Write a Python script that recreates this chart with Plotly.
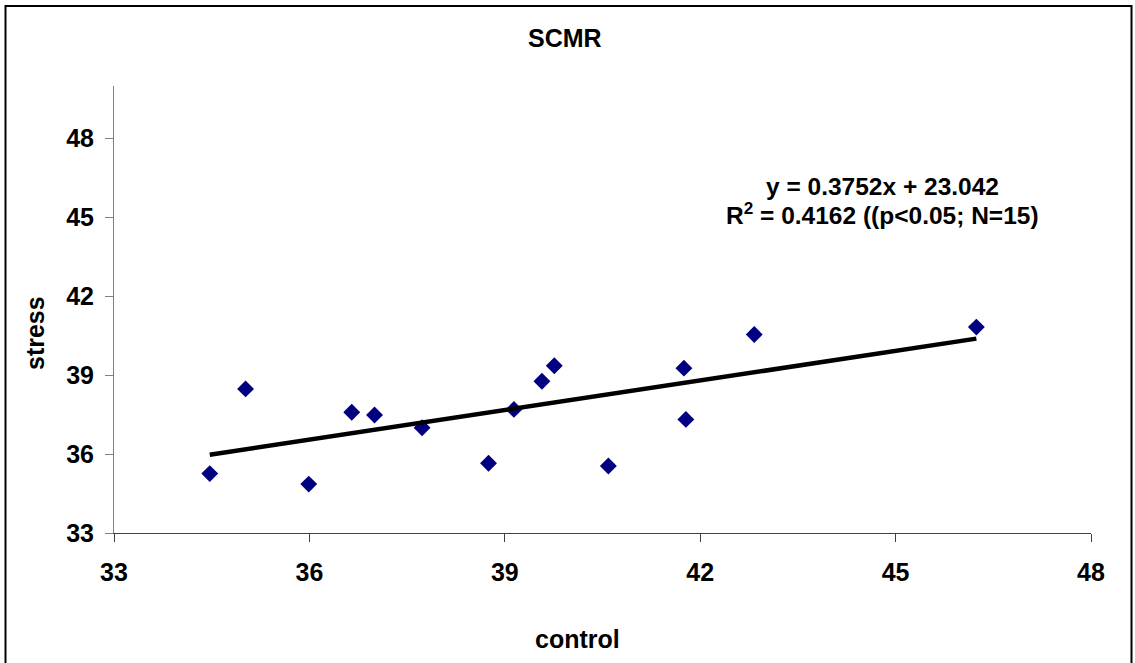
import plotly.graph_objects as go

# Data
control = [34.47, 35.02, 35.99, 36.65, 37.00, 37.73, 38.75, 39.14, 39.57, 39.76,
           40.59, 41.75, 41.78, 42.83, 46.24]
stress = [35.26, 38.48, 34.86, 37.59, 37.49, 37.00, 35.65, 37.70, 38.77, 39.36,
          35.55, 39.27, 37.32, 40.55, 40.83]
slope = 0.3752
intercept = 23.042
x_ticks = [33, 36, 39, 42, 45, 48]
y_ticks = [33, 36, 39, 42, 45, 48]

xs = sorted(control)
fit = [slope * v + intercept for v in xs]

FONT = "Liberation Sans, Arial, sans-serif"

fig = go.Figure()
fig.add_trace(go.Scatter(
    x=control, y=stress, mode="markers",
    marker=dict(symbol="diamond", size=13, color="#000080", line=dict(width=0)),
    showlegend=False, hoverinfo="skip"))
fig.add_trace(go.Scatter(
    x=xs, y=fit, mode="lines",
    line=dict(color="black", width=4.5),
    showlegend=False, hoverinfo="skip"))

W, H = 1135, 663
L, R, T, B = 114, 44, 86, 130
pw, ph = W - L - R, H - T - B

def px(x):
    return (x - L) / pw

def py(y):
    return (H - B - y) / ph

fig.update_layout(
    width=W, height=H,
    margin=dict(l=L, r=R, t=T, b=B, pad=0),
    paper_bgcolor="white", plot_bgcolor="white",
    font=dict(family=FONT, color="black"),
    xaxis=dict(range=[33, 48], tickvals=x_ticks, ticktext=[str(v) for v in x_ticks],
               showgrid=False, zeroline=False, showline=True, linecolor="#404040", linewidth=1,
               ticks="outside", ticklen=8, tickcolor="#404040", tickwidth=1,
               tickfont=dict(family=FONT, size=25, color="black", weight="bold"),
               ticklabelstandoff=9),
    yaxis=dict(range=[33, 50], tickvals=y_ticks, ticktext=[str(v) for v in y_ticks],
               showgrid=False, zeroline=False, showline=True, linecolor="#808080", linewidth=1,
               ticks="outside", ticklen=8, tickcolor="#808080", tickwidth=1,
               tickfont=dict(family=FONT, size=25, color="black", weight="bold"),
               ticklabelstandoff=6),
    shapes=[dict(type="rect", xref="paper", yref="paper",
                 x0=px(5.5), x1=px(1131.5), y0=py(700), y1=py(6),
                 line=dict(color="black", width=2), fillcolor="rgba(0,0,0,0)", layer="above")],
    annotations=[
        dict(text="<b>SCMR</b>", x=px(565), y=py(38), xref="paper", yref="paper",
             showarrow=False, xanchor="center", yanchor="middle",
             font=dict(family=FONT, size=25, color="black")),
        dict(text="<b>control</b>", x=px(577), y=py(639), xref="paper", yref="paper",
             showarrow=False, xanchor="center", yanchor="middle",
             font=dict(family=FONT, size=25, color="black")),
        dict(text="<b>stress</b>", x=px(35), y=py(333), xref="paper", yref="paper",
             showarrow=False, xanchor="center", yanchor="middle", textangle=-90,
             font=dict(family=FONT, size=25, color="black")),
        dict(text="<b>y = 0.3752x + 23.042</b>", x=px(882), y=py(186), xref="paper", yref="paper",
             showarrow=False, xanchor="center", yanchor="middle",
             font=dict(family=FONT, size=24.5, color="black")),
        dict(text="<b>R<sup>2</sup> = 0.4162 ((p<0.05; N=15)</b>", x=px(882), y=py(213),
             xref="paper", yref="paper",
             showarrow=False, xanchor="center", yanchor="middle",
             font=dict(family=FONT, size=24.5, color="black")),
    ],
)

fig.write_html("out.html")
